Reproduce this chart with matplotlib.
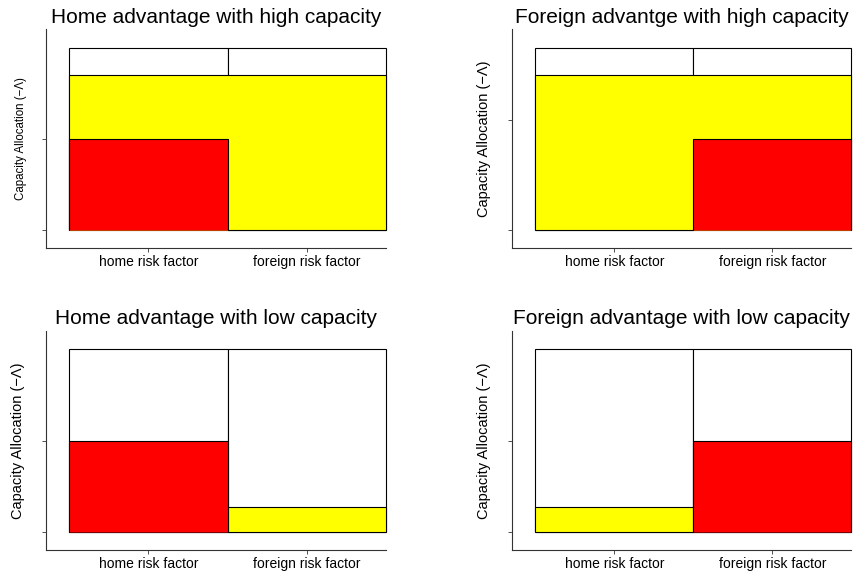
import matplotlib
matplotlib.use('Agg')
import matplotlib.pyplot as plt
import numpy as np

plt.rcParams['font.family'] = ['Liberation Sans', 'DejaVu Sans']

factors = ['home risk factor', 'foreign risk factor']

titles = ['Home advantage with high capacity',
          'Foreign advantge with high capacity',
          'Home advantage with low capacity',
          'Foreign advantage with low capacity']

# capacity (white), yellow and red parts per risk factor
capacity = [[2.0, 2.0], [1.667, 1.667], [2.0, 2.0], [2.0, 2.0]]
yellow = [[1.70, 1.70], [1.417, 1.417], [0.0, 0.27], [0.27, 0.0]]
red = [[1.0, 0.0], [0.0, 0.833], [1.0, 0.0], [0.0, 1.0]]
yticks = [0, 1]

ylabel = 'Capacity Allocation (\u2212\u039b)'
ylabel_sizes = [8.3, 10.5, 10.5, 10.5]
ylabel_pads = [8.5, 10, 10, 10]

positions = [[0.0532, 0.5664, 0.3958, 0.3823],
             [0.5957, 0.5664, 0.3953, 0.3823],
             [0.0532, 0.0379, 0.3958, 0.3834],
             [0.5957, 0.0379, 0.3953, 0.3834]]

fig = plt.figure(figsize=(8.59, 5.72), dpi=100)

edges = np.arange(len(factors) + 1)
centers = edges[:-1] + 0.5

for i in range(4):
    ax = fig.add_axes(positions[i])
    top = max(capacity[i])
    ax.bar(centers, capacity[i], width=1.0, color='white',
           edgecolor='black', linewidth=0.8, zorder=1, clip_on=False)
    ax.stairs(yellow[i], edges, baseline=0, fill=True, facecolor='#ffff00',
              edgecolor='black', linewidth=0.8, zorder=2, clip_on=False)
    ax.stairs(red[i], edges, baseline=0, fill=True, facecolor='#ff0000',
              edgecolor='black', linewidth=0.8, zorder=3, clip_on=False)
    ax.set_xlim(-0.15, 2.0)
    ax.set_ylim(-0.1 * top, 1.1 * top)
    ax.set_xticks(centers)
    ax.set_xticklabels(factors, fontsize=10)
    ax.set_yticks(yticks)
    ax.set_yticklabels([])
    ax.tick_params(direction='out', length=3, width=0.6, pad=2, colors='#333333',
                   labelcolor='black')
    for s in ['top', 'right']:
        ax.spines[s].set_visible(False)
    for s in ['left', 'bottom']:
        ax.spines[s].set_color('#333333')
        ax.spines[s].set_linewidth(0.8)
    ax.set_ylabel(ylabel, fontsize=ylabel_sizes[i], labelpad=ylabel_pads[i])
    ax.set_title(titles[i], fontsize=15, pad=0.5, y=1.027)

fig.savefig('out.png', dpi=100)
